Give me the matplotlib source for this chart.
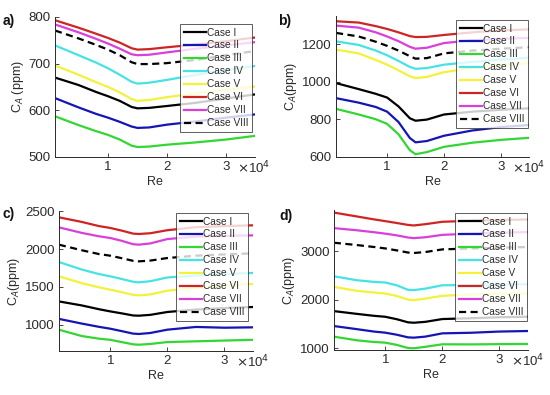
import numpy as np
import matplotlib
matplotlib.use('Agg')
import matplotlib.pyplot as plt
from matplotlib.ticker import FixedLocator

plt.rcParams['font.family'] = ['Liberation Sans', 'DejaVu Sans']

# ── data ────────────────────────────────────────────────────────────
RE = [1000, 5000, 8000, 10000, 12000, 14000, 15000, 17000, 20000, 25000, 30000, 35000]

CASES  = ['Case I', 'Case II', 'Case III', 'Case IV', 'Case V', 'Case VI', 'Case VII', 'Case VIII']
COLORS = ['#000000', '#1515b5', '#33d633', '#45e3e3', '#f2f23a', '#cf2424', '#d93fd9', '#000000']
STYLES = ['-', '-', '-', '-', '-', '-', '-', '--']

# panel a)
A_I    = [670, 654, 639, 630, 620, 607, 604, 605, 609, 616, 625, 634]
A_II   = [626, 606, 592, 584, 575, 565, 562, 563, 569, 576, 584, 591]
A_III  = [587, 568, 555, 547, 537, 524, 521, 522, 526, 531, 537, 545]
A_IV   = [739, 718, 702, 690, 676, 661, 657, 659, 665, 676, 686, 695]
A_V    = [696, 676, 660, 650, 638, 624, 620, 622, 628, 636, 644, 651]
A_VI   = [793, 777, 764, 755, 745, 733, 730, 731, 735, 741, 748, 756]
A_VII  = [784, 767, 753, 743, 732, 720, 718, 719, 724, 732, 739, 746]
A_VIII = [771, 754, 740, 730, 718, 703, 699, 699, 701, 708, 718, 727]

# panel b)
B_I    = [992, 960, 935, 915, 868, 805, 792, 798, 825, 840, 850, 858]
B_II   = [912, 888, 865, 840, 785, 700, 677, 684, 712, 740, 758, 769]
B_III  = [855, 825, 800, 775, 720, 635, 614, 625, 653, 675, 690, 701]
B_IV   = [1214, 1195, 1165, 1140, 1110, 1078, 1068, 1072, 1090, 1105, 1117, 1127]
B_V    = [1170, 1150, 1115, 1090, 1060, 1028, 1019, 1025, 1050, 1072, 1088, 1099]
B_VI   = [1321, 1314, 1295, 1280, 1262, 1242, 1237, 1238, 1248, 1262, 1272, 1278]
B_VII  = [1298, 1287, 1262, 1240, 1215, 1185, 1175, 1180, 1205, 1220, 1228, 1232]
B_VIII = [1259, 1240, 1212, 1190, 1165, 1135, 1122, 1125, 1150, 1165, 1175, 1183]

# panel c)
C_I    = [1308, 1255, 1205, 1176, 1150, 1122, 1119, 1130, 1168, 1200, 1220, 1234]
C_II   = [1077, 1015, 972, 947, 915, 882, 877, 890, 934, 970, 960, 965]
C_III  = [934, 850, 815, 800, 770, 740, 735, 745, 770, 780, 790, 800]
C_IV   = [1830, 1730, 1670, 1640, 1605, 1568, 1560, 1575, 1625, 1650, 1670, 1685]
C_V    = [1640, 1550, 1495, 1464, 1430, 1395, 1388, 1400, 1450, 1485, 1515, 1539]
C_VI   = [2421, 2360, 2305, 2280, 2245, 2205, 2200, 2210, 2250, 2290, 2305, 2315]
C_VII  = [2288, 2215, 2170, 2147, 2110, 2065, 2059, 2075, 2133, 2165, 2175, 2182]
C_VIII = [2059, 1985, 1935, 1913, 1880, 1845, 1838, 1848, 1882, 1913, 1930, 1944]

# panel d)
D_I    = [1767, 1710, 1670, 1650, 1600, 1535, 1527, 1545, 1603, 1620, 1640, 1651]
D_II   = [1459, 1395, 1345, 1322, 1280, 1225, 1219, 1240, 1308, 1320, 1345, 1356]
D_III  = [1240, 1165, 1130, 1116, 1070, 1005, 1000, 1030, 1082, 1080, 1085, 1089]
D_IV   = [2486, 2404, 2370, 2357, 2300, 2205, 2200, 2230, 2300, 2305, 2315, 2322]
D_V    = [2267, 2185, 2150, 2130, 2080, 2005, 1993, 2025, 2082, 2110, 2125, 2130]
D_VI   = [3800, 3720, 3660, 3623, 3585, 3545, 3534, 3560, 3610, 3630, 3645, 3658]
D_VII  = [3479, 3435, 3395, 3365, 3330, 3285, 3273, 3290, 3340, 3365, 3385, 3397]
D_VIII = [3178, 3130, 3090, 3060, 3020, 2975, 2966, 2985, 3040, 3060, 3075, 3089]

PANELS = [
    # label, position (l, b, w, h), ylim, yticks, ylabel, series
    ('a)', (0.100, 0.603, 0.364, 0.354), (500, 800), [500, 600, 700, 800], 'C$_A$ (ppm)',
     [A_I, A_II, A_III, A_IV, A_V, A_VI, A_VII, A_VIII]),
    ('b)', (0.611, 0.603, 0.351, 0.357), (600, 1350), [600, 800, 1000, 1200], 'C$_A$(ppm)',
     [B_I, B_II, B_III, B_IV, B_V, B_VI, B_VII, B_VIII]),
    ('c)', (0.107, 0.112, 0.353, 0.353), (655, 2500), [1000, 1500, 2000, 2500], 'C$_A$(ppm)',
     [C_I, C_II, C_III, C_IV, C_V, C_VI, C_VII, C_VIII]),
    ('d)', (0.607, 0.114, 0.353, 0.354), (965, 3850), [1000, 2000, 3000], 'C$_A$(ppm)',
     [D_I, D_II, D_III, D_IV, D_V, D_VI, D_VII, D_VIII]),
]
LABEL_POS  = [(0.005, 0.965), (0.505, 0.965), (0.005, 0.475), (0.508, 0.470)]
# upper-right corner of each legend box, figure pixels (x, y from top)
LEGEND_POS = [(252, 24), (528, 20), (248, 213), (527, 213)]
FIG_W, FIG_H = 550, 395

AX_COLOR = '#2a2a2a'


def draw_panel(fig, label, pos, ylim, yticks, ylabel, series, label_xy, leg_xy):
    ax = fig.add_axes(pos)
    for vals, name, c, ls in zip(series, CASES, COLORS, STYLES):
        ax.plot(RE, vals, color=c, linestyle=ls, linewidth=1.6,
                dashes=(3.2, 2.0) if ls == '--' else (None, None), label=name)

    ax.set_xlim(1000, 35000)
    ax.set_ylim(*ylim)
    ax.xaxis.set_major_locator(FixedLocator([10000, 20000, 30000]))
    ax.set_xticklabels(['1', '2', '3'])
    ax.yaxis.set_major_locator(FixedLocator(yticks))
    ax.set_yticklabels([str(t) for t in yticks])

    for s in ['top', 'right']:
        ax.spines[s].set_visible(False)
    for s in ['left', 'bottom']:
        ax.spines[s].set_color(AX_COLOR)
        ax.spines[s].set_linewidth(0.7)
    ax.tick_params(direction='in', length=3, width=0.6, colors=AX_COLOR,
                   labelsize=9.5, pad=3)

    ax.text(0.91, -0.022, r'$\times$10$^4$', transform=ax.transAxes,
            ha='left', va='top', fontsize=9.5, color=AX_COLOR)
    ax.set_xlabel('Re', fontsize=9, color=AX_COLOR, labelpad=2)
    ax.set_ylabel(ylabel, fontsize=9, color=AX_COLOR, labelpad=2)

    anchor = (leg_xy[0] / FIG_W, 1 - leg_xy[1] / FIG_H)
    leg = ax.legend(loc='upper right', bbox_to_anchor=anchor, bbox_transform=fig.transFigure,
                    fontsize=7.3, frameon=True, fancybox=False, handlelength=2.2,
                    handletextpad=0.1, labelspacing=0.29, borderpad=0.35,
                    borderaxespad=0.0)
    leg.get_frame().set_edgecolor('#333333')
    leg.get_frame().set_linewidth(0.7)
    for t in leg.get_texts():
        t.set_color(AX_COLOR)

    fig.text(label_xy[0], label_xy[1], label, fontsize=10, fontweight='bold',
             ha='left', va='top', color='#111111')
    return ax


fig = plt.figure(figsize=(5.5, 3.95), dpi=100)
for (label, pos, ylim, yticks, ylabel, series), lxy, gxy in zip(PANELS, LABEL_POS, LEGEND_POS):
    draw_panel(fig, label, pos, ylim, yticks, ylabel, series, lxy, gxy)

fig.savefig('out.png', dpi=100)
